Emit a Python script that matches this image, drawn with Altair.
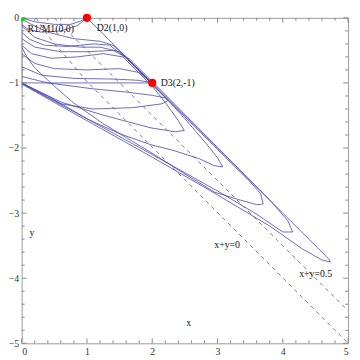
import altair as alt
import pandas as pd

# ---- axis ticks ----
x_major = [0, 1, 2, 3, 4, 5]
y_major = [0, -1, -2, -3, -4, -5]
x_minor = [0.2, 0.4, 0.6, 0.8, 1.2, 1.4, 1.6, 1.8, 2.2, 2.4, 2.6, 2.8,
           3.2, 3.4, 3.6, 3.8, 4.2, 4.4, 4.6, 4.8]
y_minor = [-v for v in x_minor]

# ---- trajectories (x, y) ----
traj_vertical = [(0, 0), (0, -0.5), (0, -1.0), (0, -1.08)]
traj_horizontal = [(0, -1.0), (1.0, -1.0), (2.0, -1.0)]
traj_top = [(0, 0), (0.2, -0.06), (0.5, -0.1), (0.75, -0.1), (0.9, -0.05), (1, 0)]
traj_outer = [(1, 0), (2, -1), (3, -2), (4, -3), (4.55, -3.55), (4.7, -3.7), (4.73, -3.75),
              (4.6, -3.72), (4.3, -3.55), (3.8, -3.2), (3.0, -2.72), (2.0, -2.14),
              (1.0, -1.58), (0.5, -1.3), (0.15, -1.1), (0, -1.0)]
traj_e1 = [(0, -0.02), (0.15, -0.1), (0.4, -0.22), (0.8, -0.32), (1.2, -0.36), (1.4, -0.42),
           (1.6, -0.6), (2.0, -1.03), (2.5, -1.52), (3.0, -2.02), (3.5, -2.52), (3.66, -2.7),
           (3.70, -2.86), (3.6, -2.87), (3.35, -2.8), (2.96, -2.68), (2.5, -2.4), (2.0, -2.08),
           (1.24, -1.62), (0.8, -1.31), (0.5, -1.05), (0.2, -0.77), (0.08, -0.6), (0, -0.45)]
traj_e2 = [(0, -0.22), (0.12, -0.33), (0.35, -0.42), (0.7, -0.44), (1.1, -0.4), (1.35, -0.42),
           (1.6, -0.62), (1.9, -0.92), (2.2, -1.22), (2.5, -1.55), (2.8, -1.9), (3.0, -2.15),
           (3.08, -2.29), (2.95, -2.27), (2.71, -2.16), (2.3, -2.03), (1.98, -1.95), (1.5, -1.78),
           (1.0, -1.55), (0.5, -1.28), (0.15, -1.08), (0, -1.0)]
traj_e3 = [(0, -0.42), (0.15, -0.55), (0.45, -0.62), (0.85, -0.6), (1.25, -0.55), (1.55, -0.6),
           (1.8, -0.85), (2.0, -1.05), (2.2, -1.3), (2.4, -1.58), (2.49, -1.73), (2.35, -1.75),
           (1.98, -1.69), (1.64, -1.6), (1.2, -1.48), (0.62, -1.3), (0.2, -1.1), (0, -1.0)]
traj_e4 = [(0, -0.9), (0.4, -1.0), (1.09, -1.09), (1.6, -1.14), (2.0, -1.19), (2.2, -1.23),
           (2.24, -1.27), (2.15, -1.32), (1.7, -1.38), (1.09, -1.4), (0.6, -1.32), (0.2, -1.12),
           (0, -1.02)]
traj_e5 = [(0, -0.32), (0.2, -0.45), (0.6, -0.52), (1.0, -0.52), (1.4, -0.5), (1.65, -0.63),
           (2.0, -0.98), (3.0, -1.99), (3.8, -2.8), (4.08, -3.12), (4.15, -3.29), (4.0, -3.29),
           (3.59, -3.01), (3.0, -2.66), (2.0, -2.1), (1.0, -1.55), (0.4, -1.2), (0, -1.0)]
traj_f1 = [(0, -0.55), (0.2, -0.7), (0.5, -0.78), (1.0, -0.8), (1.5, -0.78), (1.8, -0.84), (2, -1)]
traj_f2 = [(0, -0.75), (0.3, -0.88), (0.8, -0.93), (1.4, -0.94), (1.8, -0.96), (2, -1)]
traj_f3 = [(0, -0.12), (0.2, -0.3), (0.5, -0.4), (0.9, -0.45), (1.2, -0.45), (1.5, -0.52), (2, -1)]
traj_f4 = [(1, 0), (0.85, -0.12), (0.6, -0.2), (0.3, -0.22), (0.1, -0.18), (0, -0.1)]

dash_sum0 = [(0.22, 0), (0.35, -0.2), (0.5, -0.4), (0.7, -0.62), (1.0, -0.98), (5, -5)]
dash_sum05 = [(0.5, 0), (5, -4.5)]

# ---- labelled points ----
pt_names = ["R1/M1(0,0)", "D2(1,0)", "D3(2,-1)"]
pt_x = [0, 1, 2]
pt_y = [0, 0, -1]

text_labels = ["R1/M1(0,0)", "D2(1,0)", "D3(2,-1)", "x+y=0", "x+y=0.5", "x", "y"]
text_x = [0.09, 1.15, 2.13, 2.95, 4.25, 2.52, 0.12]
text_y = [-0.17, -0.15, -1.0, -3.49, -3.93, -4.69, -3.3]

trajectories = {
    "vertical": traj_vertical, "horizontal": traj_horizontal, "top": traj_top,
    "outer": traj_outer, "e1": traj_e1, "e2": traj_e2, "e3": traj_e3, "e4": traj_e4,
    "e5": traj_e5, "f1": traj_f1, "f2": traj_f2, "f3": traj_f3, "f4": traj_f4,
}
dashes = {"sum0": dash_sum0, "sum05": dash_sum05}


def to_df(d):
    rows = []
    for name, pts in d.items():
        for i, (x, y) in enumerate(pts):
            rows.append({"traj": name, "i": i, "x": x, "y": y})
    return pd.DataFrame(rows)


W, H = 334, 333
FONT = "Liberation Serif"
xs = alt.Scale(domain=[0, 5], nice=False, zero=False)
ys = alt.Scale(domain=[-5, 0], nice=False, zero=False)

base_x = alt.X("x:Q", scale=xs, axis=alt.Axis(values=x_major, title=None, ticks=False, domain=False,
                                               grid=False, labelFont=FONT, labelFontSize=10,
                                               labelColor="#333", labelPadding=3, format="d"))
base_y = alt.Y("y:Q", scale=ys, axis=alt.Axis(values=y_major, title=None, ticks=False, domain=False,
                                               grid=False, labelFont=FONT, labelFontSize=10,
                                               labelColor="#333", labelPadding=3, format="d"))

lines = alt.Chart(to_df(trajectories)).mark_line(
    color="#4646a8", strokeWidth=1, opacity=0.8, clip=True
).encode(x=base_x, y=base_y, detail="traj:N", order="i:Q")

dash_lines = alt.Chart(to_df(dashes)).mark_line(
    color="#5555c0", strokeWidth=1, strokeDash=[4, 4], opacity=0.85, clip=True
).encode(x=alt.X("x:Q", scale=xs), y=alt.Y("y:Q", scale=ys), detail="traj:N", order="i:Q")

pts_df = pd.DataFrame({"name": pt_names, "x": pt_x, "y": pt_y})
red_pts = alt.Chart(pts_df).transform_filter("datum.x > 0").mark_circle(
    color="#ff0000", size=70, opacity=1
).encode(x=alt.X("x:Q", scale=xs), y=alt.Y("y:Q", scale=ys))
green_pt = alt.Chart(pts_df).transform_filter("datum.x == 0").mark_square(
    color="#00dd00", size=40, opacity=1, clip=True
).encode(x=alt.X("x:Q", scale=xs), y=alt.Y("y:Q", scale=ys))

txt_df = pd.DataFrame({"label": text_labels, "x": text_x, "y": text_y})
texts = alt.Chart(txt_df).mark_text(
    align="left", baseline="middle", font=FONT, fontSize=10, color="#111"
).encode(x=alt.X("x:Q", scale=xs), y=alt.Y("y:Q", scale=ys), text="label:N")

tick_col = "#888"
xmaj = pd.DataFrame({"t": x_major})
xmin = pd.DataFrame({"t": x_minor})
ymaj = pd.DataFrame({"t": y_major})
ymin = pd.DataFrame({"t": y_minor})


def xticks(df, L):
    bot = alt.Chart(df).mark_rule(color=tick_col, strokeWidth=1).encode(
        x=alt.X("t:Q", scale=xs), y=alt.value(H), y2=alt.value(H - L))
    top = alt.Chart(df).mark_rule(color=tick_col, strokeWidth=1).encode(
        x=alt.X("t:Q", scale=xs), y=alt.value(0), y2=alt.value(L))
    return bot + top


def yticks(df, L):
    left = alt.Chart(df).mark_rule(color=tick_col, strokeWidth=1).encode(
        y=alt.Y("t:Q", scale=ys), x=alt.value(0), x2=alt.value(L))
    right = alt.Chart(df).mark_rule(color=tick_col, strokeWidth=1).encode(
        y=alt.Y("t:Q", scale=ys), x=alt.value(W), x2=alt.value(W - L))
    return left + right


chart = alt.layer(
    lines, dash_lines, xticks(xmaj, 5), xticks(xmin, 3), yticks(ymaj, 5), yticks(ymin, 3),
    red_pts, green_pt, texts
).properties(
    width=W, height=H,
    padding={"left": 14, "top": 6, "right": 4, "bottom": 13},
    autosize=alt.AutoSizeParams(type="none"),
).configure_view(stroke="#999", strokeWidth=1)

chart.save("out.html", embed_options={"renderer": "svg", "actions": False})
